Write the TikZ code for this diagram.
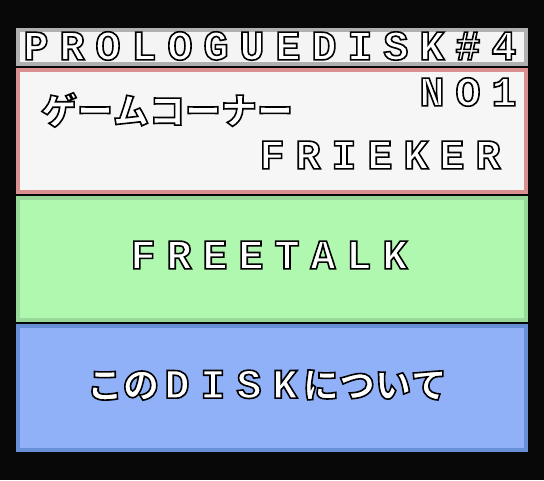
\documentclass[tikz,border=0pt]{standalone}
\usepackage{fontspec}
\newfontfamily\latfont{Liberation Mono}
\newfontfamily\jpfont{Noto Sans CJK JP}
\usepackage{tikz}
\usetikzlibrary{positioning}
\definecolor{screen}{HTML}{080808}
\definecolor{bargray}{HTML}{B0B0B0}
\definecolor{barwhite}{HTML}{F4F4F4}
\definecolor{cornerpink}{HTML}{D89090}
\definecolor{cornerwhite}{HTML}{F6F6F6}
\definecolor{talkedge}{HTML}{98D898}
\definecolor{talkgreen}{HTML}{B0F8B0}
\definecolor{aboutedge}{HTML}{6890D8}
\definecolor{aboutblue}{HTML}{90B0F8}
% one 36pt cell per character
\newcommand\spaced[1]{\spacedi#1\relax}
\def\spacedi#1{\ifx\relax#1\else\makebox[36pt]{#1}\expandafter\spacedi\fi}
\newcommand\lat[1]{{\latfont\bfseries\fontsize{42}{42}\selectfont\spaced{#1}}}
\newcommand\jp[1]{{\jpfont\bfseries\fontsize{36}{36}\selectfont\spaced{#1}}}
% white letters with a black rim
\newcommand\hollow[1]{\special{pdf:literal direct 0 0 0 RG 1.6 w 2 Tr}#1\special{pdf:literal direct 0 Tr}}
\tikzstyle{panel} = [draw, line width=4pt, minimum width=508pt, inner sep=0pt]
\tikzstyle{caption} = [text=white, inner sep=0pt]
\begin{document}
\begin{tikzpicture}[x=1pt, y=-1pt]
	\fill[screen] (0,0) rectangle (544,480);
	\node [panel, draw=bargray, fill=barwhite, minimum height=34pt] (title) at (272,47) {};
	\node [panel, draw=cornerpink, fill=cornerwhite, minimum height=122pt, below=2pt of title] (corner) {};
	\node [panel, draw=talkedge, fill=talkgreen, minimum height=122pt, below=2pt of corner] (talk) {};
	\node [panel, draw=aboutedge, fill=aboutblue, minimum height=124pt, below=2pt of talk] (about) {};

	\node [caption] (titletext) at (270,46) {\hollow{\lat{PROLOGUEDISK\#4}}};
	\node [caption] (cornertext) at (167,110) {\hollow{\jp{ゲームコーナー}}};
	\node [caption] (number) at (468,92) {\hollow{\lat{NO1}}};
	\node [caption] (frieker) at (380,155) {\hollow{\lat{FRIEKER}}};
	\node [caption] (talktext) at (269,255) {\hollow{\lat{FREETALK}}};
	\node [caption] (abouttext) at (267,385) {\hollow{\jp{この}\lat{DISK}\jp{について}}};
\end{tikzpicture}
\end{document}
